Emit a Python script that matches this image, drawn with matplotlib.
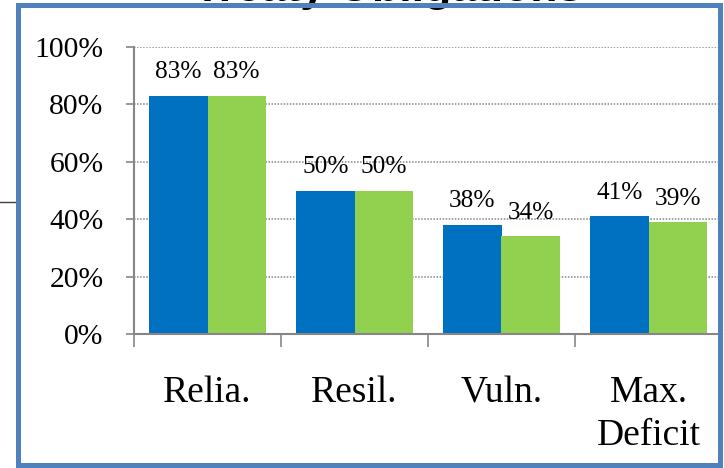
import numpy as np
import matplotlib.pyplot as plt
from matplotlib.patches import Rectangle
from matplotlib.lines import Line2D
from matplotlib.ticker import PercentFormatter

plt.rcParams['font.family'] = 'Liberation Serif'

categories = ['Relia.', 'Resil.', 'Vuln.', 'Max.\nDeficit']
series_a = [0.83, 0.50, 0.38, 0.41]
series_b = [0.83, 0.50, 0.34, 0.39]
yticks = [0, 0.2, 0.4, 0.6, 0.8, 1.0]

W, H = 724, 468
fig = plt.figure(figsize=(W/100, H/100), dpi=100)
fig.patch.set_facecolor('white')
ax = fig.add_axes([134/W, 1-334/H, (722-134)/W, (334-47)/H])

x = np.arange(len(categories))
bw = 0.395
b1 = ax.bar(x-bw/2, series_a, bw, color='#0070C0', zorder=3)
b2 = ax.bar(x+bw/2, series_b, bw, color='#92D050', zorder=3)
for bars, vals in [(b1, series_a), (b2, series_b)]:
    ax.bar_label(bars, labels=['%d%%' % round(v*100) for v in vals],
                 padding=9, fontsize=18.3)

ax.set_xlim(-0.5, len(categories)-0.5)
ax.set_ylim(0, 1)
ax.set_yticks(yticks)
ax.yaxis.set_major_formatter(PercentFormatter(1.0, decimals=0))
ax.tick_params(axis='y', labelsize=21.3, length=6, width=1.2, color='#868686', pad=16)
ax.yaxis.grid(True, linestyle=(0, (1, 1)), color='#868686', linewidth=1.1, zorder=0)

ax.set_xticks(x)
ax.set_xticklabels(categories, fontsize=27, linespacing=1.3)
ax.tick_params(axis='x', length=0, pad=30)
ax.set_xticks(np.arange(len(categories)+1)-0.5, minor=True)
ax.tick_params(axis='x', which='minor', length=9, width=1.2, color='#868686')

for s in ['top', 'right']:
    ax.spines[s].set_visible(False)
for s in ['left', 'bottom']:
    ax.spines[s].set_color('#868686')
    ax.spines[s].set_linewidth(1.5)
    ax.spines[s].set_zorder(4)

# title mostly cut off above the frame
fig.text(388/W, 1-1.5/H, 'Treaty Obligations', ha='center', va='baseline',
         fontsize=32, fontweight='bold', family='Liberation Sans', zorder=1)

fig.add_artist(Line2D([0, 15/W], [1-202/H, 1-202/H], color='#404040', linewidth=1))
fig.add_artist(Rectangle((17.5/W, 3/H), (720-17.5)/W, (465-5)/H, fill=False,
                         edgecolor='#4F81BD', linewidth=3.6, zorder=10))

fig.savefig('out.png', dpi=100)
